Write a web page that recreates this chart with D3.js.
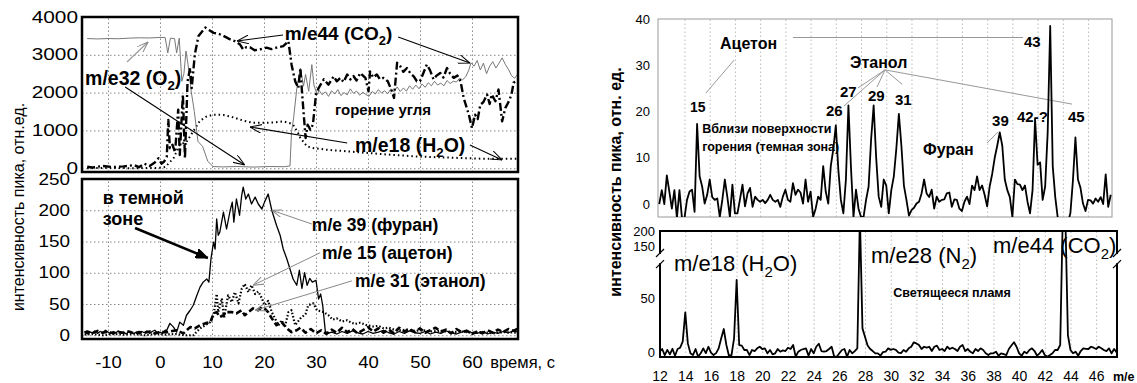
<!DOCTYPE html>
<html>
<head>
<meta charset="utf-8">
<script src="https://cdnjs.cloudflare.com/ajax/libs/d3/7.8.5/d3.min.js"></script>
<style>
  body { margin: 0; background: #fff; }
  svg { display: block; font-family: Arial, "Liberation Sans", sans-serif; }
</style>
</head>
<body>
<div id="chart"></div>
<script>
// ---------- left chart: signals vs time, [t (s), value] ----------
const timeTicks = [-10, 0, 10, 20, 30, 40, 50, 60];
const topTicks = [0, 1000, 2000, 3000, 4000];
const bottomTicks = [0, 50, 100, 150, 200, 250];

const o2 = [[-14,3430],[-12,3420],[-10,3430],[-8,3425],[-6,3440],[-4,3450],[-2,3445],[0,3460],[1,3455],[1.5,3050],[2,3440],
  [2.8,3430],[3.2,3050],[3.7,3440],[4.2,2300],[4.6,2500],[5,3100],[5.4,2740],[6,2035],[6.6,1500],[7.3,710],[8.2,575],
  [9.2,180],[10.2,45],[12,35],[15,45],[18,30],[21,45],[24,40],[25,60],[25.3,970],[25.7,1330],[26.3,2100],[27,2650],
  [27.6,2170],[28,2480],[28.6,2035],[29.2,2740],[29.6,2200],[30.2,1950],[30.6,2060],[31.2,1940],[31.8,2020],[32.4,1900],
  [33,2050],[33.6,1960],[34.2,2080],[34.8,1920],[35.4,2000],[36,1940],[36.6,2100],[37.2,1980],[37.8,2040],[38.4,1930],
  [39,2010],[39.6,1950],[40.2,1900],[40.8,2030],[41.4,1960],[42,2080],[42.6,1990],[43.2,2050],[43.8,1970],[44.4,2100],
  [45,2020],[45.6,2150],[46.2,2030],[46.8,2120],[47.4,2040],[48,2180],[48.6,2090],[49.2,2200],[49.8,2100],[50.4,2230],
  [51,2140],[51.6,2260],[52.2,2180],[52.8,2300],[53.4,2200],[54,2250],[54.6,2180],[55.2,2320],[55.8,2240],[56.4,2300],
  [57,2280],[57.6,2380],[58.2,2340],[58.8,2420],[59.4,2600],[59.8,2790],[60.4,2700],[61,2850],[61.6,2600],[62.2,2780],
  [62.8,2500],[63.4,2700],[64,2820],[64.6,2650],[65.2,2780],[65.8,2920],[66.4,2750],[67,2620],[67.6,2450],[68.2,2380],[68.85,2500]];

const co2 = [[-14,40],[-13,20],[-11,60],[-9,30],[-7,50],[-5,80],[-4,30],[-3,120],[-2,60],[-1,150],[-0.3,265],[0.3,120],
  [0.8,177],[1.3,300],[1.6,1280],[1.9,530],[2.4,620],[2.9,420],[3.5,1550],[3.8,350],[4.4,1950],[4.8,265],[5.3,2300],
  [5.8,2650],[6.1,2120],[6.7,3010],[7.4,3500],[8.7,3720],[9.5,3650],[10.3,3580],[11.2,3560],[12.2,3500],[13.3,3420],
  [14.4,3360],[15.4,3270],[16,3140],[16.6,3200],[17.3,3200],[18.2,3120],[19.2,3140],[20.5,3190],[21.4,3150],[22.4,3190],
  [23.7,3230],[24.7,3360],[25.3,2740],[26,2300],[26.6,2120],[27,2650],[27.3,2035],[27.6,1500],[28,800],[28.4,1150],
  [28.9,1020],[29.4,1150],[30,1950],[30.5,2120],[31.5,2350],[32.4,2210],[33.4,2430],[34,2300],[34.7,2390],[35.3,2280],
  [36,2480],[36.6,2350],[37.2,2440],[37.8,2320],[38.5,2520],[39.5,2390],[40.1,2035],[40.4,2560],[41,2400],[41.7,2480],
  [42.3,2350],[43,2390],[43.8,2300],[44.6,2035],[45,1860],[45.6,2790],[46.2,2700],[46.8,2550],[47.5,2650],[48.2,2500],
  [48.8,2430],[49.4,2300],[50,2300],[50.6,2500],[51.3,2740],[51.9,2600],[52.6,2350],[53.2,2450],[53.9,2520],[54.5,2400],
  [55.2,2650],[55.8,2500],[56.5,2390],[57.2,2450],[57.8,2300],[58.4,1860],[59.4,1415],[60,1060],[60.6,1415],[61.1,1300],
  [61.6,1680],[62.2,1750],[62.9,1950],[63.4,1700],[63.8,1950],[64.5,1770],[65.1,2080],[65.8,1240],[66.4,1590],[67.1,1770],
  [67.6,1950],[68,2260],[68.85,2350]];

const h2o = [[-14,0],[-10,10],[-5,0],[0,10],[1,30],[2.6,265],[3.8,620],[5.1,700],[6.4,975],[7.7,1260],[9,1370],[10.3,1415],
  [12.2,1410],[14.1,1345],[16,1260],[17.9,1200],[19.9,1200],[21.8,1210],[23.7,1240],[25,1190],[25.6,1150],[26.5,950],
  [27,800],[28.3,575],[29.6,530],[32,490],[36.6,440],[43,370],[49.4,310],[55.8,280],[62.2,250],[68.85,250]];

const furan = [[-14.5,6],[-14,2],[-13.5,5],[-13,4],[-12.5,7],[-12,3],[-11.5,6],[-11,4],[-10.5,8],[-10,5],[-9.5,3],[-9,6],
  [-8.5,4],[-8,7],[-7.5,3],[-7,5],[-6.5,2],[-6,6],[-5.5,4],[-5,3],[-4.5,5],[-4,2],[-3.5,6],[-3,4],[-2.5,7],[-2,3],[-1.5,6],
  [-1,8],[-0.5,4],[0,5],[0.5,3],[1,8],[1.3,8],[1.9,19],[2.6,13],[3.2,5],[3.8,21],[4.5,16],[5.1,32],[5.8,40],[6.4,48],
  [7.1,64],[7.7,77],[8.3,85],[9,90],[9.4,85],[9.8,122],[10,133],[10.3,149],[10.6,138],[10.9,186],[11.2,160],[11.5,165],
  [12.2,197],[12.8,170],[13.5,200],[13.9,213],[14.2,181],[14.7,218],[15.3,192],[15.7,223],[16,237],[16.5,218],[17,226],
  [17.6,210],[18.3,221],[18.9,210],[19.6,202],[20.1,213],[20.8,226],[21.5,200],[22.4,176],[23.1,160],[23.7,138],[24.4,122],
  [25,106],[25.6,90],[26.3,80],[26.8,104],[27.3,75],[27.8,100],[28.3,80],[28.8,91],[29.3,85],[30,88],[30.5,58],[30.9,66],
  [31.3,47],[31.8,6],[32.3,3],[33,5],[34,2],[35,6],[36,3],[37,7],[38,4],[39,2],[40,6],[41,3],[42,5],[43,8],[44,4],[45,2],
  [46,6],[47,3],[48,7],[49,4],[50,3],[51,6],[52,2],[53,5],[54,3],[55,7],[56,4],[57,2],[58,5],[59,8],[60,4],[61,3],[62,6],
  [63,2],[64,5],[65,3],[66,6],[67,4],[68,7],[68.85,5]];

const acetone = [[-14.5,1],[-13,2],[-11,0],[-9,2],[-7,1],[-5,2],[-3,0],[-1,2],[1,1],[3,2],[5,0],[6.4,0],[7.7,11],[8.7,16],
  [9.7,21],[10.3,32],[10.9,66],[11.2,37],[11.9,59],[12.3,27],[13.1,64],[13.8,53],[14.4,69],[15.1,51],[15.7,74],[16.3,82],
  [17,69],[17.6,80],[18.3,66],[18.9,70],[19.6,59],[20.1,48],[20.8,55],[21.5,37],[22.1,27],[22.8,16],[23.4,24],[24,13],
  [24.7,37],[25.3,40],[26,16],[27,27],[28,34],[28.5,48],[29.5,51],[30.2,40],[31.5,37],[32.4,32],[33.2,25],[34,27],[35,22],
  [36,24],[36.6,21],[37.5,18],[38.5,20],[39.8,16],[41,14],[42,15],[43,11],[44,12],[45,9],[46.2,8],[47.5,9],[49,7],
  [50.5,8],[52,6],[54,7],[56,5],[58,6],[60,4],[62,5],[64,3],[66,5],[68.85,4]];

const ethanol = [[-14.5,4],[-14,6],[-13,3],[-12,7],[-11,4],[-10,6],[-9,3],[-8,5],[-7,4],[-6,6],[-5,3],[-4,5],[-3,4],[-2,6],
  [-1,3],[0,5],[1.3,5],[3.2,8],[4.5,3],[5.8,13],[6.7,11],[7.7,16],[8.7,19],[9.7,21],[10.3,35],[10.9,37],[11.5,29],
  [12.2,32],[12.8,37],[13.8,37],[14.7,35],[15.7,40],[16.3,32],[17,37],[17.9,43],[18.9,40],[19.6,45],[20.1,43],[20.8,37],
  [21.5,27],[22.4,16],[23.4,21],[24.4,11],[25.3,5],[26.3,8],[27,12],[28,4],[29,10],[30,3],[31,8],[32,2],[33,9],[34,4],
  [35,12],[36,5],[37,10],[38,3],[39,8],[40,13],[41,6],[42,11],[43,4],[44,9],[45,3],[46,12],[47,6],[48,10],[49,5],[50,11],
  [51,4],[52,8],[53,12],[54,6],[55,9],[56,3],[57,10],[58,5],[59,7],[60,2],[61,6],[62,3],[63,8],[64,4],[65,9],[66,5],
  [67,10],[68,7],[68.85,11]];

// ---------- right chart: mass spectra, m/e from 12 in steps of 0.2 ----------
const mzStart = 12, mzStep = 0.2;
const mzTicks = [12, 14, 16, 18, 20, 22, 24, 26, 28, 30, 32, 34, 36, 38, 40, 42, 44, 46];
const darkTicks = [0, 10, 20, 30, 40];
const flameTicks = [0, 50, 150, 200];

// near the burning surface (dark zone)
const darkZone = [
  0, 3, 0, 6.2, 2.7,   -1, 3, -3, 3, -3,   -3, 0.9, 2.7, 3.1, -1.7,   17.3, 6, 3.8, 0.1, 2,
  5.3, 1.5, 0.9, 1.2, -2.8,   0.9, 5.3, 1.5, -2.8, 4.2,   -2, -2, 1, 4.2, -0.5,   2.3, 3.5, -0.6, 1.6, 0.9,
  0.5, 0.9, 0.2, 0.9, 2,   0.9, 0.5, 0.9, -0.6, 1.6,   3.1, 0.9, 0.5, 4.5, 2,   3.1, 2.5, 0.1, 5.3, 0.5,
  2.7, -2.8, -1, 1.6, 0.9,   8.2, 2.7, 0.1, 8.2, 11.8,   17, 7.4, 0.9, -2, 5.3,   21.3, 8, -2.8, 3.1, -1,
  -2.8, -2.8, 0.9, 3.8, 14,   21.3, 10, 1.6, -0.6, 5.3,   4, -2, 3, 6, 12,   19.5, 12.6, 4, 0.9, -2.5,
  -1.3, -0.8, 0.1, 0.5, 2.3,   5.3, 2.3, 1.5, 3.1, -1,   1.6, 0.5, 0.9, 1, 2.3,   2.5, -0.6, 1, 0.9, -1,
  -1.5, 0.5, 1.6, 0, 4,   3, 6, 3, 4, 2,   -0.5, 3.8, 6.5, 10, 12.6,   15.5, 12.6, 5.3, 3, 1.5,
  -2.8, 5.3, 4.3, 4.2, 3,   4, 0.5, -2, 3, 18.4,   8.5, 9, 0.9, 3.8, 15.5,   38.5, 8.2, 1.5, -3, -4,
  -4, -4, -4, -2, 5,   14.4, 5.3, 3.5, 0.1, -1.5,   0.9, 0.8, 0.1, 1.2, 0.5,   1.5, 0, 6.4, -0.6, 2];

// luminous flame
const flame = [
  0.3, 2.8, -2.8, 2, -2.2,   3, -3.4, 2.8, 4, 9.6,   36.7, 8, -1.2, -2.8, 2.8,   -4.3, -1.2, 3.4, -1, 4.9,
  -0.5, -2.8, -1, 3.4, 12.7,   21.3, 6.5, -3.4, -2.8, 12.7,   66.7, 6.5, 5.9, 1.9, 1.9,   -2.8, 1.9, 0.9, 3.4, 4.9,
  2.8, 3.4, -1.2, 1.9, -2.2,   -1.2, 2.8, 0.3, 1.5, 0.9,   4, 2.8, 6.5, -4.3, 0.3,   1.9, 2.8, 3.4, -3.4, 2.8,
  -1.2, 4.9, 7.7, 0.9, 0.3,   0.9, 2.8, 4.9, -4.3, -4.3,   -1.2, 1.9, 2.8, -4.3, 1.9,   -1.2, 0.9, 3.4, 250, 21.9,
  14, 6, 2.8, 0.9, -1.2,   -1.2, -3.4, 0, 0.3, 3.4,   2, 2.8, 2, -0.5, -1,   1.9, 0.3, 3.4, 4.9, 9,
  8, 6.5, 2.8, 4.9, 4,   4.9, 0.9, 4.9, 5.9, 1.9,   2.8, 0.9, 4.9, 2.8, 4,   2.8, 0.9, 4.9, 6.5, 0.9,
  2.8, 0.3, -1.2, 2.8, 0.9,   3.4, 1.9, -1.2, -2.8, -1.2,   -1.2, 0.3, -3.4, -1.2, -2,   -2.8, 2.8, 6, 9, 4.9,
  -1.2, -3.4, 0.3, -1.2, 1.9,   3.4, 0.9, -3.4, -1.2, 1.9,   -2.8, -4.3, -2.8, -1.2, 1.9,   1.9, 6.5, 250, 250, 15.7,
  1.9, -1.2, 0.3, -3.4, 0.9,   3.4, 3, 2.8, 4.9, 4,   2.8, 4.9, 3.5, 1.9, 0.9,   3.4, -1.2, 2.8, -0.3];

// ---------- annotations (data coordinates) ----------
const co2Label = ["m/e44 (CO", {sub: "2"}, ")"];
const o2Label = ["m/e32 (O", {sub: "2"}, ")"];
const h2oLabel = ["m/e18 (H", {sub: "2"}, "O)"];
const n2Label = ["m/e28 (N", {sub: "2"}, ")"];

const leftTopLabels = [
  {t: 24.0, v: 3392, parts: co2Label, size: 19},
  {t: -14.4, v: 2201, parts: o2Label, size: 19.5},
  {t: 37.5, v: 429, parts: h2oLabel, size: 19.5},
  {t: 33.65, v: 1407, parts: ["горение угля"], size: 15}
];
const leftTopArrows = [
  {from: [23.65, 3524], to: [14.8, 3365], color: "#000"},
  {from: [45.8, 3471], to: [59.6, 2783], color: "#000"},
  {from: [-6.7, 2150], to: [16.3, 85], color: "#000"},
  {from: [-6.35, 2810], to: [-2.3, 3339], color: "#999"},
  {from: [36, 667], to: [17.3, 1090], color: "#000"},
  {from: [59.6, 614], to: [65.8, 217], color: "#000"}
];
const leftBottomLabels = [
  {t: -11, v: 210, parts: ["в темной"], size: 18},
  {t: -11, v: 176, parts: ["зоне"], size: 18},
  {t: 29.2, v: 167, parts: ["m/e 39 (фуран)"], size: 17.5},
  {t: 31.15, v: 122, parts: ["m/e 15 (ацетон)"], size: 17.5},
  {t: 37.5, v: 77, parts: ["m/e 31 (этанол)"], size: 17.5}
];
const leftBottomArrows = [
  {from: [-4.8, 171.6], to: [9.2, 123.6], color: "#000", thick: true},
  {from: [29.2, 178], to: [21.5, 200], color: "#888"},
  {from: [30.8, 132], to: [17.9, 80], color: "#888"},
  {from: [36.9, 87], to: [18.3, 40], color: "#888"}
];
const darkLabels = [
  {m: 16.82, v: 33.5, text: "Ацетон", size: 16},
  {m: 14.44, v: 19.9, text: "15", size: 14},
  {m: 15.4, v: 15.3, text: "Вблизи поверхности", size: 12.5},
  {m: 15.4, v: 11.5, text: "горения (темная зона)", size: 12.5},
  {m: 27.13, v: 29.4, text: "Этанол", size: 16},
  {m: 25.22, v: 19, text: "26", size: 15},
  {m: 26.33, v: 23.1, text: "27", size: 15},
  {m: 28.55, v: 22.3, text: "29", size: 15},
  {m: 30.69, v: 21.4, text: "31", size: 15},
  {m: 38.39, v: 16.9, text: "39", size: 15},
  {m: 40.37, v: 17.7, text: "42-?", size: 15},
  {m: 40.92, v: 33.9, text: "43", size: 15},
  {m: 44.41, v: 17.7, text: "45", size: 15},
  {m: 32.92, v: 10.6, text: "Фуран", size: 16}
];
const darkLines = [
  [[22.6, 36], [40.85, 36]], [[17.93, 31.1], [15.7, 24]],
  [[29.9, 29], [26.65, 21.2]], [[29.9, 29], [27.76, 25.1]], [[29.9, 29], [29.27, 25.3]],
  [[29.9, 29], [31.25, 25.9]], [[29.9, 29], [44.73, 21.6]], [[38.0, 13.2], [38.86, 15.6]]
];
const flameLabels = [
  {m: 13.12, v: 75, parts: h2oLabel, size: 22, bold: false},
  {m: 28.46, v: 89.3, parts: n2Label, size: 22, bold: false},
  {m: 37.97, v: 125, parts: co2Label, size: 22, bold: false},
  {m: 30.19, v: 51, parts: ["Светящееся пламя"], size: 12.5, bold: true}
];
const flameBreak = [85, 125];

// ---------- svg ----------
const svg = d3.select("#chart").append("svg").attr("width", 1137).attr("height", 383);
const defs = svg.append("defs");
const plain = d => String(d);

function addMarker(id, color, filled, len, half) {
  defs.append("marker").attr("id", id)
    .attr("viewBox", `0 0 ${len} ${half * 2}`).attr("refX", len).attr("refY", half)
    .attr("markerWidth", len).attr("markerHeight", half * 2)
    .attr("markerUnits", "userSpaceOnUse").attr("orient", "auto")
    .append("path").attr("d", filled ? `M0,0L${len},${half}L0,${half * 2}Z` : `M0,0L${len},${half}L0,${half * 2}`)
    .attr("fill", filled ? color : "none").attr("stroke", color).attr("stroke-width", 1);
}
addMarker("headBlack", "#000", false, 12, 4.5);
addMarker("headGray", "#888", false, 11, 4);
addMarker("headThick", "#000", true, 12, 5);

function clip(id, x0, y0, x1, y1) {
  defs.append("clipPath").attr("id", id).append("rect")
    .attr("x", x0).attr("y", y0).attr("width", x1 - x0).attr("height", y1 - y0);
  return `url(#${id})`;
}

function addText(g, x, y, parts, size, bold) {
  const t = g.append("text").attr("x", x).attr("y", y)
    .attr("font-size", size).attr("font-weight", bold ? "bold" : "normal").attr("fill", "#000");
  let down = false;
  parts.forEach(p => {
    if (typeof p === "string") {
      t.append("tspan").attr("dy", down ? -size * 0.28 : null).text(p);
      down = false;
    } else {
      t.append("tspan").attr("font-size", size * 0.68).attr("dy", size * 0.28).text(p.sub);
      down = true;
    }
  });
  return t;
}

function widen(sel, k) {
  sel.each(function() {
    const w = this.getComputedTextLength();
    d3.select(this).attr("textLength", w * k).attr("lengthAdjust", "spacingAndGlyphs");
  });
}

function gridX(g, x, ticks, y0, y1, color) {
  g.append("g").attr("transform", `translate(0,${y1})`)
    .call(d3.axisBottom(x).tickValues(ticks).tickSize(-(y1 - y0)).tickFormat(""))
    .call(a => a.select(".domain").remove())
    .selectAll("line").attr("stroke", color).attr("stroke-dasharray", "1.5,2.5");
}
function gridY(g, y, ticks, x0, x1, color) {
  g.append("g").attr("transform", `translate(${x0},0)`)
    .call(d3.axisLeft(y).tickValues(ticks).tickSize(-(x1 - x0)).tickFormat(""))
    .call(a => a.select(".domain").remove())
    .selectAll("line").attr("stroke", color).attr("stroke-dasharray", "1.5,2.5");
}

function series(g, data, x, y, color, width, dash) {
  g.append("path").datum(data)
    .attr("d", d3.line().x(d => x(d[0])).y(d => y(d[1])))
    .attr("fill", "none").attr("stroke", color).attr("stroke-width", width)
    .attr("stroke-dasharray", dash || null).attr("stroke-linejoin", "round");
}

// ================= left chart =================
const xL = d3.scaleLinear().domain([-15, 68.85]).range([82, 518]);
const yTop = d3.scaleLinear().domain([-100, 4000]).range([172, 17]);
const yBot = d3.scaleLinear().domain([-6, 250]).range([339, 179]);

const left = svg.append("g");

// top panel
gridX(left, xL, timeTicks, 17, 172, "#888");
gridY(left, yTop, topTicks, 82, 518, "#888");
const topPlot = left.append("g").attr("clip-path", clip("clipTop", 82, 17, 518, 172));
series(topPlot, h2o, xL, yTop, "#000", 2, "1.5,3");
series(topPlot, o2, xL, yTop, "#777", 1);
series(topPlot, co2, xL, yTop, "#000", 2.4, "8,3,2,3");
left.append("rect").attr("x", 82).attr("y", 17).attr("width", 436).attr("height", 155)
  .attr("fill", "none").attr("stroke", "#000").attr("stroke-width", 2.5);

const yTopAxis = left.append("g").attr("transform", "translate(82,0)")
  .call(d3.axisLeft(yTop).tickValues(topTicks).tickFormat(plain).tickSize(0).tickPadding(4));
yTopAxis.select(".domain").remove();
yTopAxis.selectAll("text").attr("font-size", 16).attr("font-family", null).attr("fill", "#000").call(widen, 1.3);

// bottom panel
gridX(left, xL, timeTicks, 179, 339, "#888");
gridY(left, yBot, bottomTicks, 82, 518, "#888");
const botPlot = left.append("g").attr("clip-path", clip("clipBot", 82, 179, 518, 339));
series(botPlot, acetone, xL, yBot, "#000", 2.2, "1.5,2");
series(botPlot, ethanol, xL, yBot, "#000", 2.6, "6,3");
series(botPlot, furan, xL, yBot, "#000", 1.3);
left.append("rect").attr("x", 82).attr("y", 179).attr("width", 436).attr("height", 160)
  .attr("fill", "none").attr("stroke", "#000").attr("stroke-width", 2.5);

const yBotAxis = left.append("g").attr("transform", "translate(82,0)")
  .call(d3.axisLeft(yBot).tickValues(bottomTicks).tickFormat(plain).tickSize(0).tickPadding(12));
yBotAxis.select(".domain").remove();
yBotAxis.selectAll("text").attr("font-size", 16).attr("font-family", null).attr("fill", "#000").call(widen, 1.18);

const xLAxis = left.append("g").attr("transform", "translate(0,339)")
  .call(d3.axisBottom(xL).tickValues(timeTicks).tickFormat(plain).tickSize(0).tickPadding(17));
xLAxis.select(".domain").remove();
xLAxis.selectAll("text").attr("font-size", 16.5).attr("font-family", null).attr("fill", "#000").call(widen, 1.12);

left.append("text").attr("x", xL(63.5)).attr("y", 368).attr("font-size", 16.5).text("время, с");
left.append("text").attr("transform", "translate(24,207) rotate(-90)").attr("text-anchor", "middle")
  .attr("font-size", 16).text("интенсивность пика, отн.ед.");

// annotations
leftTopArrows.forEach(a => left.append("line")
  .attr("x1", xL(a.from[0])).attr("y1", yTop(a.from[1])).attr("x2", xL(a.to[0])).attr("y2", yTop(a.to[1]))
  .attr("stroke", a.color).attr("stroke-width", 1.1)
  .attr("marker-end", a.color === "#000" ? "url(#headBlack)" : "url(#headGray)"));
leftTopLabels.forEach(l => addText(left, xL(l.t), yTop(l.v), l.parts, l.size, true));

leftBottomArrows.forEach(a => left.append("line")
  .attr("x1", xL(a.from[0])).attr("y1", yBot(a.from[1])).attr("x2", xL(a.to[0])).attr("y2", yBot(a.to[1]))
  .attr("stroke", a.color).attr("stroke-width", a.thick ? 2.5 : 1)
  .attr("marker-end", a.thick ? "url(#headThick)" : "url(#headGray)"));
leftBottomLabels.forEach(l => addText(left, xL(l.t), yBot(l.v), l.parts, l.size, true));

// ================= right chart =================
const xR1 = d3.scaleLinear().domain([11.9, 47.9]).range([658, 1112]);
const yR1 = d3.scaleLinear().domain([-2.8, 40]).range([217, 19]);
const xR2 = d3.scaleLinear().domain([12, 47.6]).range([659.6, 1116.7]);
const yR2 = d3.scaleLinear().domain([-4.6, 80, 150, 200]).range([357, 265.6, 246, 231]);

const right = svg.append("g");
const darkPts = darkZone.map((v, i) => [mzStart + i * mzStep, v]);
const flamePts = flame.map((v, i) => [mzStart + i * mzStep, v]);

// top: dark zone spectrum
gridX(right, xR1, mzTicks.slice(1), 19, 217, "#bbb");
right.append("rect").attr("x", 658).attr("y", 19).attr("width", 454).attr("height", 198)
  .attr("fill", "none").attr("stroke", "#999").attr("stroke-width", 1);
darkLines.forEach(l => right.append("line")
  .attr("x1", xR1(l[0][0])).attr("y1", yR1(l[0][1])).attr("x2", xR1(l[1][0])).attr("y2", yR1(l[1][1]))
  .attr("stroke", "#999").attr("stroke-width", 1));
const darkPlot = right.append("g").attr("clip-path", clip("clipDark", 658, 19, 1112, 217));
series(darkPlot, darkPts, xR1, yR1, "#000", 1.8);

const yR1Axis = right.append("g").attr("transform", "translate(658,0)")
  .call(d3.axisLeft(yR1).tickValues(darkTicks).tickFormat(plain).tickSize(0).tickPadding(8));
yR1Axis.select(".domain").remove();
yR1Axis.selectAll("text").attr("font-size", 13).attr("font-family", null).attr("fill", "#000");

darkLabels.forEach(l => addText(right, xR1(l.m), yR1(l.v), [l.text], l.size, true));

// bottom: luminous flame spectrum
gridX(right, xR2, mzTicks.slice(1), 231, 357, "#bbb");
const flamePlot = right.append("g").attr("clip-path", clip("clipFlame", 660, 231, 1117, 357));
series(flamePlot, flamePts, xR2, yR2, "#000", 1.8);
right.append("rect").attr("x", 660).attr("y", 231).attr("width", 457).attr("height", 126)
  .attr("fill", "none").attr("stroke", "#000").attr("stroke-width", 2);

// axis break marks
[660, 1117].forEach(bx => {
  const yb0 = yR2(flameBreak[0]), yb1 = yR2(flameBreak[1]);
  right.append("rect").attr("x", bx - 2).attr("y", yb1 + 1).attr("width", 4).attr("height", yb0 - yb1 - 2).attr("fill", "#fff");
  [yb0, yb1].forEach(yy => right.append("line")
    .attr("x1", bx - 4).attr("y1", yy + 4).attr("x2", bx + 4).attr("y2", yy - 4)
    .attr("stroke", "#000").attr("stroke-width", 1.2));
});

const yR2Axis = right.append("g").attr("transform", "translate(660,0)")
  .call(d3.axisLeft(yR2).tickValues(flameTicks).tickFormat(plain).tickSize(0).tickPadding(5));
yR2Axis.select(".domain").remove();
yR2Axis.selectAll("text").attr("font-size", 13).attr("font-family", null).attr("fill", "#000");

const xR2Axis = right.append("g").attr("transform", "translate(0,357)")
  .call(d3.axisBottom(xR2).tickValues(mzTicks).tickFormat(plain).tickSize(0).tickPadding(14));
xR2Axis.select(".domain").remove();
xR2Axis.selectAll("text").attr("font-size", 14).attr("font-family", null).attr("fill", "#000");

flameLabels.forEach(l => addText(right, xR2(l.m), yR2(l.v), l.parts, l.size, l.bold));

right.append("text").attr("x", 1113).attr("y", 381).attr("font-size", 12.5).attr("font-weight", "bold").text("m/e");
right.append("text").attr("transform", "translate(621,182) rotate(-90)").attr("text-anchor", "middle")
  .attr("font-size", 16).attr("font-weight", "bold").text("интенсивность пика, отн. ед.");
</script>
</body>
</html>
